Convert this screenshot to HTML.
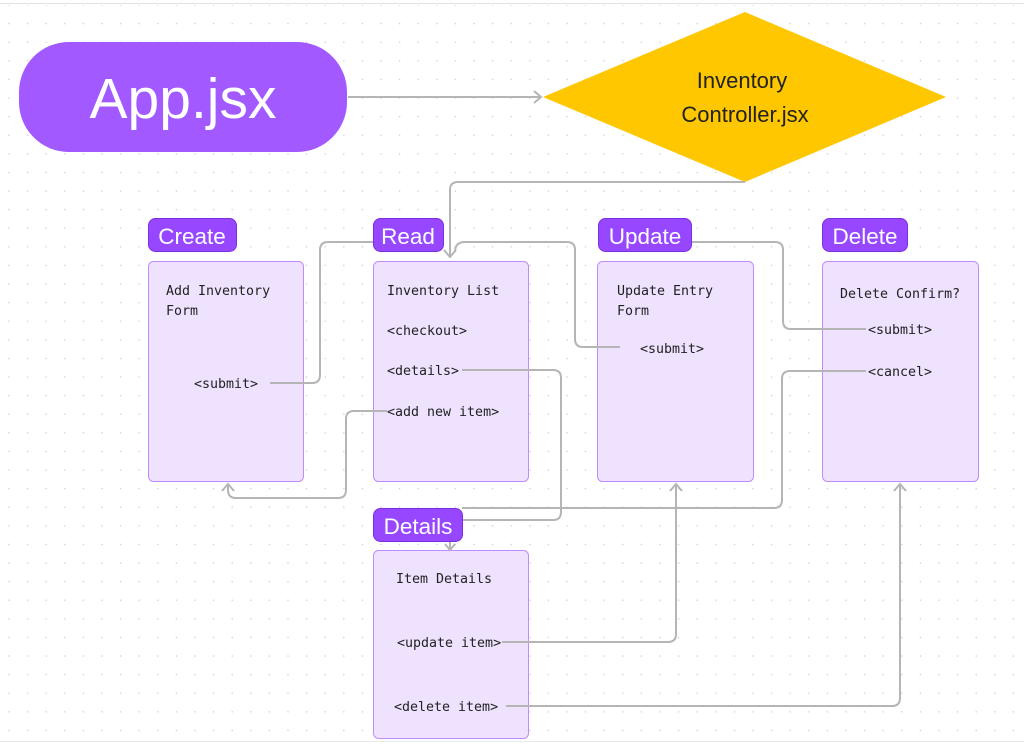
<!DOCTYPE html>
<html><head><meta charset="utf-8"><style>
html,body{margin:0;padding:0;background:#fff;}
svg{display:block;}
.m{font-family:"DejaVu Sans Mono","Liberation Mono",monospace;font-size:13.3px;fill:#222;}
.t{font-family:"Liberation Sans",sans-serif;font-size:22.5px;fill:#fff;}
.c{fill:none;stroke:#b5b5b5;stroke-width:2;}
</style></head><body>
<svg width="1024" height="745" viewBox="0 0 1024 745" xmlns="http://www.w3.org/2000/svg">
<defs><pattern id="d" width="18.6" height="18.6" patternUnits="userSpaceOnUse" x="8" y="4"><circle cx="1" cy="1" r="0.8" fill="#cfcfcf"/></pattern></defs>
<rect width="1024" height="745" fill="#fff"/>
<rect y="5" width="1024" height="735" fill="url(#d)"/>
<line x1="0" y1="3.5" x2="1024" y2="3.5" stroke="#e2e2e2"/>
<line x1="0" y1="741.5" x2="1024" y2="741.5" stroke="#e8e8e8"/>

<!-- App -->
<rect x="19" y="42" width="328" height="110" rx="50" fill="#a259ff"/>
<text x="183" y="118" text-anchor="middle" font-family="Liberation Sans,sans-serif" font-size="57" fill="#fff">App.jsx</text>
<path class="c" d="M348 97 H540"/><path class="c" d="M534 91 L541 97 L534 103"/>
<!-- Diamond -->
<polygon points="745,12 946,97 745,182 543,97" fill="#ffc700"/>
<text x="742" y="88" text-anchor="middle" font-family="Liberation Sans,sans-serif" font-size="22" fill="#222">Inventory</text>
<text x="745" y="122" text-anchor="middle" font-family="Liberation Sans,sans-serif" font-size="22" fill="#222">Controller.jsx</text>

<!-- boxes -->
<g fill="#efe2ff" stroke="#c08bff" stroke-width="1">
<rect x="148.5" y="261.5" width="155" height="220" rx="5"/>
<rect x="373.5" y="261.5" width="155" height="220" rx="5"/>
<rect x="597.5" y="261.5" width="156" height="220" rx="5"/>
<rect x="822.5" y="261.5" width="156" height="220" rx="5"/>
<rect x="373.5" y="550.5" width="155" height="188" rx="5"/>
</g>

<!-- connectors -->
<path class="c" d="M745 182 H458 Q450 182 450 190 V257"/><path class="c" d="M444 250 L450 257 L456 250"/>
<path class="c" d="M270 383 H312 Q320 383 320 375 V250 Q320 242 328 242 H375"/>
<path class="c" d="M455 252 Q455 242 465 242 H567 Q575 242 575 250 V339 Q575 347 583 347 H620"/>
<path class="c" d="M690 242 H775 Q783 242 783 250 V321 Q783 329 791 329 H866"/>
<path class="c" d="M462 370 H553 Q561 370 561 378 V512 Q561 520 553 520 H462"/>
<path class="c" d="M866 371 H790 Q782 371 782 379 V500 Q782 508 774 508 H462"/>
<path class="c" d="M387 411 H354 Q346 411 346 419 V490 Q346 498 338 498 H236 Q228 498 228 490 V484"/><path class="c" d="M222 491 L228 484 L234 491"/>
<path class="c" d="M502 642 H668 Q676 642 676 634 V484"/><path class="c" d="M670 491 L676 484 L682 491"/>
<path class="c" d="M506 706 H892 Q900 706 900 698 V484"/><path class="c" d="M894 491 L900 484 L906 491"/>
<path class="c" d="M450 540 V550"/><path class="c" d="M445 544 L450 550 L455 544"/>

<!-- tags -->
<g fill="#9747ff" stroke="#7c2fe0" stroke-width="1">
<rect x="148.5" y="218.5" width="88" height="33" rx="7"/>
<rect x="373.5" y="218.5" width="70" height="33" rx="7"/>
<rect x="598.5" y="218.5" width="93" height="33" rx="7"/>
<rect x="822.5" y="218.5" width="85" height="33" rx="7"/>
<rect x="373.5" y="508.5" width="89" height="33" rx="7"/>
</g>
<text class="t" x="192" y="244" text-anchor="middle">Create</text>
<text class="t" x="408" y="244" text-anchor="middle">Read</text>
<text class="t" x="645" y="244" text-anchor="middle">Update</text>
<text class="t" x="865" y="244" text-anchor="middle">Delete</text>
<text class="t" x="418" y="534" text-anchor="middle">Details</text>

<text class="m" x="166" y="295">Add Inventory</text>
<text class="m" x="166" y="315">Form</text>
<text class="m" x="194" y="388">&lt;submit&gt;</text>
<text class="m" x="387" y="295">Inventory List</text>
<text class="m" x="387" y="335">&lt;checkout&gt;</text>
<text class="m" x="387" y="375">&lt;details&gt;</text>
<text class="m" x="387" y="416">&lt;add new item&gt;</text>
<text class="m" x="617" y="295">Update Entry</text>
<text class="m" x="617" y="315">Form</text>
<text class="m" x="640" y="353">&lt;submit&gt;</text>
<text class="m" x="840" y="298">Delete Confirm?</text>
<text class="m" x="868" y="334">&lt;submit&gt;</text>
<text class="m" x="868" y="376">&lt;cancel&gt;</text>
<text class="m" x="396" y="583">Item Details</text>
<text class="m" x="397" y="647">&lt;update item&gt;</text>
<text class="m" x="394" y="711">&lt;delete item&gt;</text>
</svg>
</body></html>
